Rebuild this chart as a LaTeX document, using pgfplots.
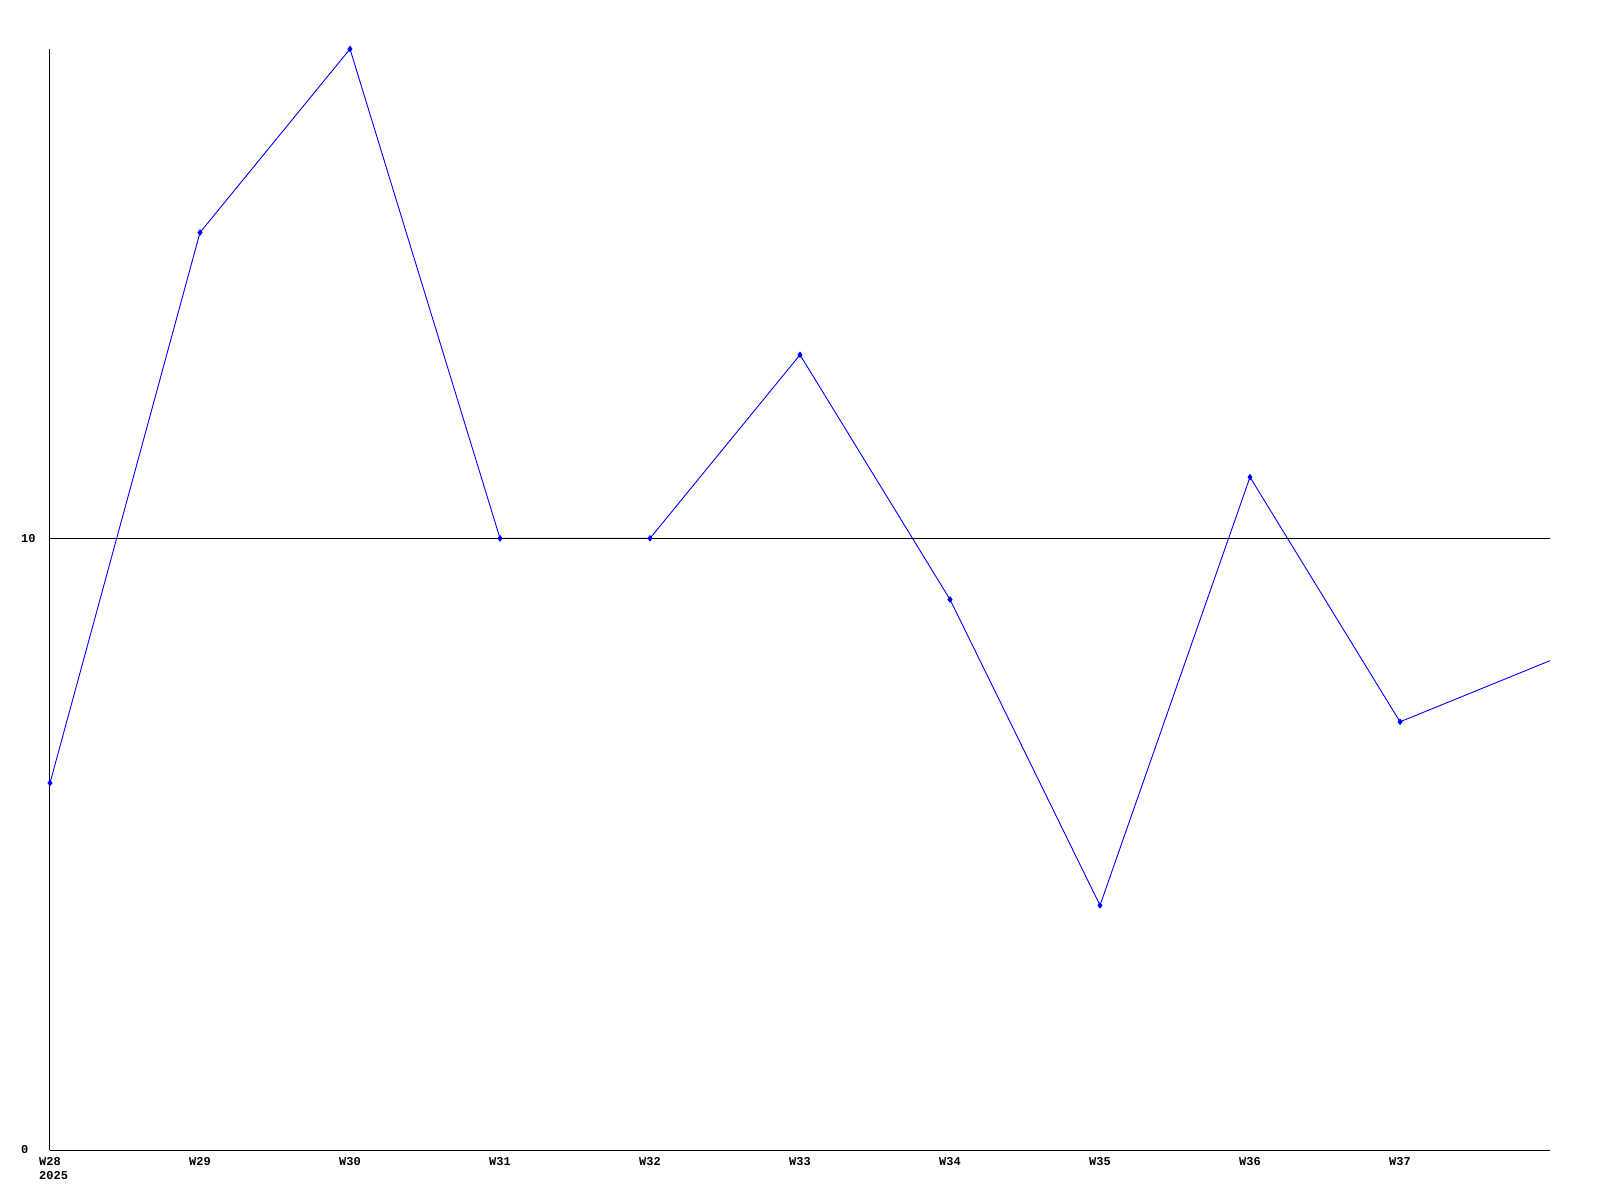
\documentclass[border=0pt]{standalone}
\usepackage{fontspec}
\setmainfont{Liberation Mono}
\usepackage{pgfplots}
\pgfplotsset{compat=1.18}
\definecolor{lineblue}{RGB}{0,0,255}
\begin{document}
\begin{tikzpicture}
\path[use as bounding box] (0,0) rectangle (800pt,600pt);
\begin{axis}[
  at={(25pt,25pt)}, anchor=south west,
  scale only axis, width=750pt, height=550.5pt,
  xmin=0, xmax=10, ymin=0, ymax=18,
  axis lines*=left,
  axis line style={black, line width=0.5pt, -},
  xtick={0,...,9},
  xticklabels={{W28\\\makebox[0pt][l]{2025}},W29,W30,W31,W32,W33,W34,W35,W36,W37},
  ytick={0,10},
  ymajorgrids,
  grid style={black, line width=0.5pt},
  major tick length=0pt,
  axis on top,
  /pgf/number format/assume math mode=true,
  tick label style={font=\bfseries\fontsize{6}{7}\selectfont},
  xticklabel style={align=left, yshift=0pt},
  yticklabel style={anchor=west, xshift=-18pt},
  clip=true,
]
\addplot[color=lineblue, line width=0.45pt, mark=diamond*, mark size=1.3pt, mark options={fill=lineblue}]
  coordinates {(0,6) (1,15) (2,18) (3,10) (4,10) (5,13) (6,9) (7,4) (8,11) (9,7)};
\addplot[color=lineblue, line width=0.45pt, mark=none]
  coordinates {(9,7) (10,8)};
\end{axis}
\end{tikzpicture}
\end{document}
